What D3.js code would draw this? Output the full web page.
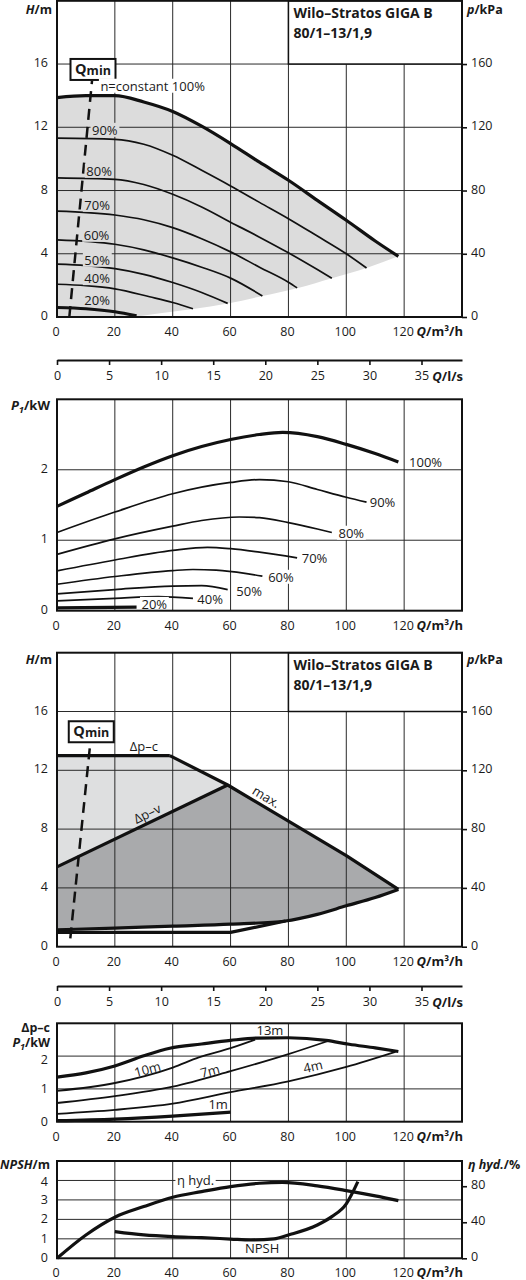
<!DOCTYPE html>
<html><head><meta charset="utf-8">
<script src="https://cdn.jsdelivr.net/npm/d3@7"></script>
<style>
body{margin:0;background:#fff}
svg text{font-family:'Open Sans','Noto Sans',sans-serif;fill:#1a1a1a}
.grid{stroke:#2a2a2a;stroke-width:1}
</style>
</head><body>
<svg id="c" width="526" height="1280"></svg>
<script>
// ---------- DATA ----------
const flowTicks = [0,20,40,60,80,100,120];
const flowLsTicks = [0,5,10,15,20,25,30,35];
const headTicks = [0,4,8,12,16];
const kpaTicks = [0,40,80,120,160];
const powerTicks = [0,1,2];
const npshTicks = [0,1,2,3,4];
const etaTicks = [0,40,80];
const pumpTitle = ["Wilo–Stratos GIGA B","80/1–13/1,9"];

// Panel 1: head curves at constant speed [Q m³/h, H m]
const head100 = [[0,13.88],[10,14.0],[20,14.0],[30,13.6],[40,13.0],[50,12.07],[60,10.97],[70,9.79],[80,8.65],[90,7.38],[100,6.12],[110,4.81],[118,3.84]];
const head90  = [[0,11.31],[20,11.24],[30,10.93],[40,10.23],[50,9.28],[60,8.29],[70,7.25],[80,6.22],[90,5.12],[100,4.0],[107,3.1]];
const head80  = [[0,8.8],[20,8.71],[30,8.38],[40,7.76],[50,6.96],[60,6.0],[70,5.05],[80,4.06],[90,3.0],[95,2.45]];
const head70  = [[0,6.7],[20,6.45],[30,6.15],[40,5.65],[50,4.95],[60,4.12],[70,3.15],[80,2.2],[83,1.84]];
const head60  = [[0,4.88],[20,4.6],[30,4.25],[40,3.74],[50,3.15],[60,2.46],[71,1.33]];
const head50  = [[0,3.34],[10,3.25],[20,3.06],[30,2.7],[40,2.18],[50,1.55],[59,0.86]];
const head40  = [[0,2.07],[10,1.98],[20,1.78],[32,1.28],[40,0.92],[47,0.52]];
const head20  = [[0,0.6],[10,0.52],[20,0.33],[27.5,0.07]];
const headMinBoundary = [[0,0],[20,0],[27.6,0.05],[35,0.22],[47,0.5],[59,0.86],[71,1.33],[83,1.82],[95,2.45],[107,3.1],[118,3.84]];
const headCurves = [head100,head90,head80,head70,head60,head50,head40,head20];
const speedNames = ["100%","90%","80%","70%","60%","50%","40%","20%"];
const headLabelPos = [[15,14.6],[12.1,11.81],[10.15,9.22],[9.46,7.07],[9.23,5.17],[9.46,3.59],[9.46,2.43],[9.46,1.05]];
const qminLine1 = [[4.26,0],[12.1,14.93]];

// Panel 2: power P1 [Q, kW]
const pow100 = [[0,1.48],[10,1.67],[20,1.86],[30,2.04],[40,2.2],[50,2.33],[60,2.43],[70,2.5],[78,2.53],[90,2.47],[100,2.36],[110,2.23],[118,2.11]];
const pow90  = [[0,1.11],[20,1.4],[40,1.66],[60,1.82],[70,1.86],[80,1.83],[90,1.72],[100,1.61],[107,1.54]];
const pow80  = [[0,0.8],[20,1.02],[40,1.2],[50,1.28],[63,1.33],[70,1.32],[80,1.25],[90,1.16],[95,1.11]];
const pow70  = [[0,0.565],[20,0.72],[40,0.855],[52,0.9],[60,0.88],[70,0.83],[83,0.75]];
const pow60  = [[0,0.375],[20,0.485],[40,0.57],[47,0.585],[55,0.575],[65,0.53],[71,0.49]];
const pow50  = [[0,0.24],[20,0.3],[40,0.35],[50,0.355],[59,0.3]];
const pow40  = [[0,0.14],[20,0.175],[35,0.2],[47,0.175]];
const pow20  = [[0,0.04],[27.5,0.05]];
const powCurves = [pow100,pow90,pow80,pow70,pow60,pow50,pow40,pow20];
const powLabelPos = [[121.7,2.11],[108.1,1.54],[97.3,1.1],[84.6,0.74],[73,0.475],[62,0.28],[48.5,0.16],[29.2,0.09]];

// Panel 3: control modes [Q, H]
const dpcMax = [[0,13],[39,13]];
const maxCurve = [[39,13],[59,11],[80,8.55],[100,6.2],[118,3.9]];
const dpvMax = [[0,5.43],[59,11]];
const dpvMin = [[0,1.15],[20,1.27],[40,1.4],[60,1.53],[79,1.75],[90,2.2],[100,2.78],[110,3.35],[118,3.9]];
const dpcMin = [[0,0.97],[60,0.97],[79,1.75]];
const qminLine3 = [[4.6,0.57],[11.5,13.84]];
const modeNames = ["Δp–c","Δp–v","max."];
const modeLabelPos = [[30,13.62],[31.2,9.05],[72.3,10.18]];

// Panel 4: Δp-c power curves [Q, kW]
const dpc13 = [[0,1.36],[10,1.49],[20,1.7],[30,2.01],[39,2.24],[50,2.37],[60,2.48],[69,2.55],[80,2.56],[93,2.48],[101,2.36],[110,2.25],[118,2.14]];
const dpc10 = [[0,0.94],[20,1.18],[40,1.65],[49,1.96],[60,2.24],[68.5,2.5]];
const dpc7  = [[0,0.57],[20,0.78],[40,1.07],[60,1.54],[80,2.06],[93.7,2.46]];
const dpc4  = [[0,0.24],[20,0.36],[40,0.55],[60,0.9],[80,1.23],[100,1.67],[117,2.13]];
const dpc1  = [[0,0.03],[20,0.08],[40,0.17],[60,0.29]];
const dpcNames = ["13m","10m","7m","4m","1m"];
const dpcLabelPos = [[73.6,2.77],[31.3,1.59],[52.9,1.54],[88.5,1.68],[55.7,0.52]];

// Panel 5: NPSH [Q, m] and efficiency [Q, %]
const npsh = [[20,1.37],[30,1.2],[40,1.11],[50,1.06],[60,0.99],[67,0.94],[75,1.0],[80,1.2],[90,1.71],[95,2.14],[100,2.8],[104,3.94]];
const etaHyd = [[0,0],[10,25.9],[20,45.6],[30,57.4],[40,67.8],[50,74],[60,79.6],[70,83.3],[78,84.2],[90,80.4],[100,75.2],[110,69.3],[118,64]];
const npshNames = ["η hyd.","NPSH"];
const npshLabelPos = [[47.9,4],[70.9,0.51]];

// ---------- LAYOUT ----------
const svg = d3.select("#c");
const INK = "#111";
const X0 = 57, X1 = 462;
const x = d3.scaleLinear().domain([0,140]).range([X0,X1]);
const xLs = d3.scaleLinear().domain([0,140/3.6]).range([X0,X1]);
const y1 = d3.scaleLinear().domain([0,20]).range([317,0.8]);
const y1k = d3.scaleLinear().domain([0,200]).range([317,0.8]);
const y2 = d3.scaleLinear().domain([0,3]).range([610.7,399.3]);
const y3 = d3.scaleLinear().domain([0,20]).range([946.7,652.7]);
const y3k = d3.scaleLinear().domain([0,200]).range([946.7,652.7]);
const y4 = d3.scaleLinear().domain([0,3]).range([1121.7,1023.3]);
const y5 = d3.scaleLinear().domain([0,5]).range([1258.3,1161]);
const y5e = d3.scaleLinear().domain([0,108]).range([1258.3,1161]);
const fmt = d3.format("d");

function lineGen(ys, curve){ return d3.line().x(d=>x(d[0])).y(d=>ys(d[1])).curve(curve||d3.curveMonotoneX); }

function grid(ys, yt){
  const [b,t] = ys.range();
  const g = svg.append("g");
  g.selectAll(null).data(flowTicks.slice(1)).join("line").attr("class","grid")
    .attr("x1",d=>x(d)).attr("x2",d=>x(d)).attr("y1",t).attr("y2",b);
  g.selectAll(null).data(yt.filter(v=>v>0)).join("line").attr("class","grid")
    .attr("x1",X0).attr("x2",X1).attr("y1",d=>ys(d)).attr("y2",d=>ys(d));
}
function border(ys){
  const [b,t] = ys.range();
  svg.append("rect").attr("x",X0).attr("y",t).attr("width",X1-X0).attr("height",b-t)
    .attr("fill","none").attr("stroke",INK).attr("stroke-width",2);
}
function styleText(sel,size){
  sel.selectAll("text").attr("font-size",size||12.5).attr("font-family","'Open Sans','Noto Sans',sans-serif").attr("fill","#1a1a1a");
}
function leftAxis(ys, ticks, off){
  const g = svg.append("g").attr("transform",`translate(48,${off==null?-1.5:off})`)
    .call(d3.axisLeft(ys).tickValues(ticks).tickFormat(fmt).tickSize(0).tickPadding(0));
  g.select(".domain").remove(); styleText(g);
  return g;
}
function rightAxis(ys, ticks){
  const g = svg.append("g").attr("transform",`translate(${X1},0)`)
    .call(d3.axisRight(ys).tickValues(ticks).tickFormat(fmt).tickSize(5).tickPadding(4));
  g.select(".domain").remove();
  g.selectAll(".tick line").attr("stroke",INK).attr("stroke-width",1.6);
  g.selectAll("text").attr("y",-1.5);
  styleText(g);
}
function bottomAxis(ys){
  const yb = ys.range()[0];
  const g = svg.append("g").attr("transform",`translate(-1.5,${yb+14.5})`)
    .call(d3.axisBottom(x).tickValues(flowTicks).tickFormat(fmt).tickSize(0).tickPadding(0));
  g.select(".domain").remove();
  g.selectAll("text").attr("dy","0.35em");
  styleText(g);
  rich(X1+1, yb+14.5, "end", [["Q",1],["/m³/h"]]);
}
function lsAxis(yy){
  const g = svg.append("g").attr("transform",`translate(0,${yy})`)
    .call(d3.axisBottom(xLs).tickValues(flowLsTicks).tickFormat(fmt).tickSize(5).tickSizeOuter(0).tickPadding(5));
  g.select(".domain").attr("stroke",INK).attr("stroke-width",2);
  g.selectAll(".tick line").attr("stroke",INK).attr("stroke-width",1.6);
  g.selectAll("text").attr("dy","0.35em").attr("y",16);
  styleText(g);
  rich(X1+1, yy+16, "end", [["Q",1],["/l/s"]]);
}
function rich(px,py,anchor,parts,size){
  size = size||13;
  const t = svg.append("text").attr("x",px).attr("y",py).attr("text-anchor",anchor)
    .attr("dy","0.35em").attr("font-size",size).attr("font-weight",700);
  let shift = 0;
  parts.forEach(p=>{
    const ts = t.append("tspan").text(p[0]);
    if(p[1]) ts.attr("font-style","italic");
    if(p[2]){ ts.attr("font-size",size*0.72).attr("dy",3); shift=3; }
    else if(shift){ ts.attr("dy",-shift); shift=0; }
  });
  return t;
}
function label(txt,px,py,anchor,bg,rot,size){
  const g = svg.append("g").attr("transform",`translate(${px},${py}) rotate(${rot||0})`);
  const t = g.append("text").attr("text-anchor",anchor).attr("dy","0.35em").attr("font-size",size||13).text(txt);
  if(bg){
    const bb = t.node().getBBox();
    g.insert("rect","text").attr("x",bb.x-1.5).attr("y",bb.y+2).attr("width",bb.width+3).attr("height",bb.height-4).attr("fill",bg);
  }
}
function titleBox(ys){
  const top = ys.range()[1], bot = ys(16), left = x(80);
  svg.append("rect").attr("x",left).attr("y",top).attr("width",X1-left).attr("height",bot-top)
    .attr("fill","#fff").attr("stroke",INK).attr("stroke-width",1.5);
  pumpTitle.forEach((s,i)=>{
    svg.append("text").attr("x",left+5).attr("y",top+17.5+i*19.5).attr("font-size",14).attr("font-weight",700).text(s);
  });
}
function qmin(ys, pts){
  svg.append("path").datum(pts).attr("d",lineGen(ys,d3.curveLinear)).attr("fill","none")
    .attr("stroke",INK).attr("stroke-width",2.5).attr("stroke-dasharray","11,7");
  const tx = x(pts[1][0]), ty = ys(pts[1][1]);
  const w = 45, h = 21;
  svg.append("rect").attr("x",tx+1-w/2).attr("y",ty-1-h).attr("width",w).attr("height",h)
    .attr("fill","#fff").attr("stroke",INK).attr("stroke-width",2);
  const t = svg.append("text").attr("x",tx+1).attr("y",ty-7).attr("text-anchor","middle").attr("font-weight",700);
  t.append("tspan").text("Q").attr("font-size",14.5);
  t.append("tspan").text("min").attr("font-size",12.5).attr("dy",1);
}
function curve(ys, data, w, c){
  svg.append("path").datum(data).attr("d",lineGen(ys,c)).attr("fill","none")
    .attr("stroke",INK).attr("stroke-width",w).attr("stroke-linejoin","round");
}

// ---------- PANEL 1 : H(Q) ----------
svg.append("path").attr("d", (function(){
  const top = lineGen(y1)(head100);
  const bot = lineGen(y1)(headMinBoundary.slice().reverse());
  return top + "L" + bot.slice(1) + "Z";
})()).attr("fill","#dcdcdc");
grid(y1, headTicks);
titleBox(y1);
qmin(y1, qminLine1);
headCurves.forEach((c,i)=>curve(y1,c,(i===0||i===7)?3.2:1.7));
speedNames.forEach((s,i)=>{
  const [qx,hy] = headLabelPos[i];
  label(i===0?"n=constant 100%":s, x(qx), y1(hy), "start", i===0?"#fff":"#dcdcdc");
});
border(y1);
leftAxis(y1, headTicks);
rightAxis(y1k, kpaTicks);
bottomAxis(y1);
rich(52, 9.5, "end", [["H",1],["/m"]], 12.5);
rich(467, 9.5, "start", [["p",1],["/kPa"]], 12.5);
lsAxis(360);

// ---------- PANEL 2 : P1(Q) ----------
grid(y2, powerTicks);
powCurves.forEach((c,i)=>curve(y2,c,(i===0||i===7)?3.2:1.7));
speedNames.forEach((s,i)=>{ const [qx,py]=powLabelPos[i]; label(s, x(qx), y2(py), "start", "#fff"); });
border(y2);
leftAxis(y2, powerTicks);
bottomAxis(y2);
rich(50, 405, "end", [["P",1],["1",1,1],["/kW"]]);

// ---------- PANEL 3 : control modes ----------
svg.append("path").attr("d",
  lineGen(y3,d3.curveLinear)(dpcMax.concat(maxCurve.slice(1,2)).concat(dpvMax.slice().reverse())) + "Z"
).attr("fill","#dedfe0");
svg.append("path").attr("d", (function(){
  const top = lineGen(y3,d3.curveLinear)(dpvMax.concat(maxCurve.slice(2)));
  const bot = lineGen(y3)(dpvMin.slice().reverse());
  return top + "L" + bot.slice(1) + "Z";
})()).attr("fill","#a9aaac");
grid(y3, headTicks);
titleBox(y3);
qmin(y3, qminLine3);
curve(y3, dpcMax, 3.2, d3.curveLinear);
curve(y3, maxCurve, 3.2, d3.curveLinear);
curve(y3, dpvMax, 3.2, d3.curveLinear);
curve(y3, dpvMin, 3.2);
curve(y3, dpcMin, 3.2, d3.curveLinear);
(function(){
  const ang = (a,b)=>Math.atan2(y3(b[1])-y3(a[1]), x(b[0])-x(a[0]))*180/Math.PI;
  const rots = [0, ang(dpvMax[0],dpvMax[1]), ang(maxCurve[1],maxCurve[4])];
  modeNames.forEach((s,i)=>{ const [qx,hy]=modeLabelPos[i]; label(s, x(qx), y3(hy), "middle", null, rots[i]); });
})();
border(y3);
leftAxis(y3, headTicks);
rightAxis(y3k, kpaTicks);
bottomAxis(y3);
rich(52, 660, "end", [["H",1],["/m"]], 12.5);
rich(467, 660, "start", [["p",1],["/kPa"]], 12.5);
lsAxis(986);

// ---------- PANEL 4 : Δp-c power ----------
grid(y4, powerTicks);
[dpc13,dpc10,dpc7,dpc4,dpc1].forEach((c,i)=>curve(y4,c,(i===0||i===4)?3.2:1.8));
const dpcRot = [0,-15,-15,-13,0];
dpcNames.forEach((s,i)=>{ const [qx,py]=dpcLabelPos[i]; label(s, x(qx), y4(py), "middle", null, dpcRot[i]); });
border(y4);
const ax4 = leftAxis(y4, powerTicks, -0.5);
ax4.selectAll(".tick").filter(d=>d===2).select("text").attr("y",3.5);
bottomAxis(y4);
rich(50, 1028, "end", [["Δp–c"]], 12.5);
rich(50, 1043, "end", [["P",1],["1",1,1],["/kW"]], 12.5);

// ---------- PANEL 5 : NPSH / efficiency ----------
grid(y5, npshTicks);
svg.append("path").datum(etaHyd).attr("d", d3.line().x(d=>x(d[0])).y(d=>y5e(d[1])).curve(d3.curveMonotoneX))
  .attr("fill","none").attr("stroke",INK).attr("stroke-width",3.2);
curve(y5, npsh, 3.2);
label(npshNames[0], x(npshLabelPos[0][0]), y5(npshLabelPos[0][1]), "middle", "#fff");
label(npshNames[1], x(npshLabelPos[1][0]), y5(npshLabelPos[1][1]), "middle", null);
border(y5);
const ax5 = leftAxis(y5, npshTicks, -0.5);
ax5.selectAll(".tick").filter(d=>d===4).select("text").attr("y",1.5);
rightAxis(y5e, etaTicks);
bottomAxis(y5);
rich(50, 1165, "end", [["NPSH",1],["/m"]], 12.5);
rich(468, 1165, "start", [["η hyd.",1],["/%"]], 12.5);
</script>
</body></html>
